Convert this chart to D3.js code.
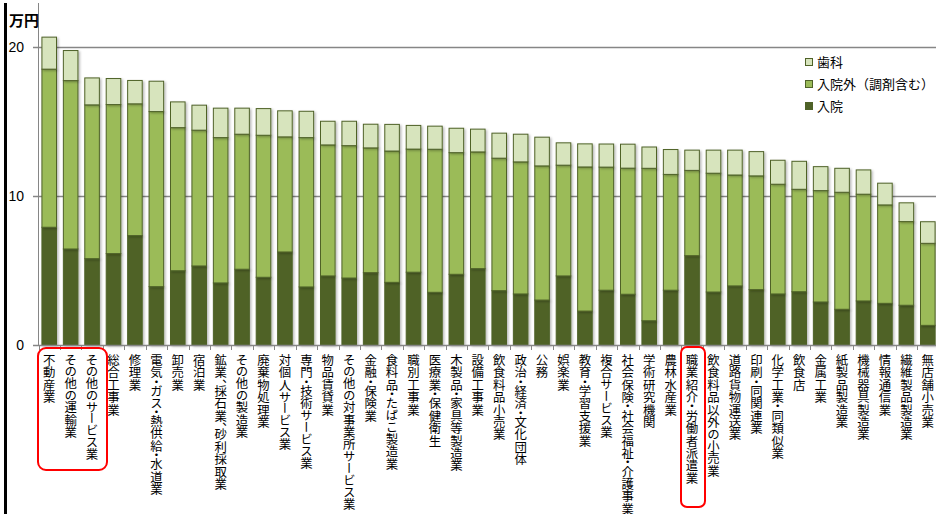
<!DOCTYPE html>
<html><head><meta charset="utf-8">
<script src="https://cdn.jsdelivr.net/npm/d3@7"></script>
<style>
html,body{margin:0;padding:0;background:#fff;}
svg{display:block;}
.cat{font-family:"Noto Sans CJK JP","Noto Sans",sans-serif;font-size:12.4px;fill:#000;writing-mode:vertical-rl;font-feature-settings:"vpal" 1;}
.leg{font-family:"Noto Sans CJK JP","Noto Sans",sans-serif;font-size:13px;fill:#000;}
.tick{font-family:"Liberation Sans",Arial,sans-serif;font-size:14px;fill:#000;}
</style>
</head><body>
<svg id="chart" width="936" height="514"></svg>
<script>
const categories = ["不動産業","その他の運輸業","その他のサービス業","総合工事業","修理業","電気・ガス・熱供給・水道業","卸売業","宿泊業","鉱業、採石業、砂利採取業","その他の製造業","廃棄物処理業","対個人サービス業","専門・技術サービス業","物品賃貸業","その他の対事業所サービス業","金融・保険業","食料品・たばこ製造業","職別工事業","医療業・保健衛生","木製品・家具等製造業","設備工事業","飲食料品小売業","政治・経済・文化団体","公務","娯楽業","教育・学習支援業","複合サービス業","社会保険・社会福祉・介護事業","学術研究機関","農林水産業","職業紹介・労働者派遣業","飲食料品以外の小売業","道路貨物運送業","印刷・同関連業","化学工業・同類似業","飲食店","金属工業","紙製品製造業","機械器具製造業","情報通信業","繊維製品製造業","無店舗小売業"];
const inpatient  = [7.91,6.45,5.80,6.14,7.35,3.92,4.99,5.31,4.17,5.09,4.55,6.25,3.90,4.64,4.50,4.86,4.21,4.89,3.54,4.75,5.13,3.65,3.43,3.02,4.64,2.28,3.68,3.41,1.63,3.68,6.00,3.56,3.97,3.72,3.43,3.58,2.89,2.40,2.96,2.80,2.67,1.32];
const outpatient = [10.62,11.31,10.33,10.01,8.85,11.76,9.61,9.12,9.76,9.07,9.54,7.73,10.03,8.80,8.89,8.38,8.82,8.27,9.61,8.17,7.84,8.90,8.87,9.01,7.44,9.68,8.27,8.47,10.24,7.78,5.73,7.98,7.45,7.64,7.37,6.88,7.48,7.86,7.17,6.61,5.62,5.51];
const dental     = [2.15,2.02,1.81,1.75,1.57,2.04,1.73,1.68,1.98,1.75,1.79,1.75,1.77,1.59,1.64,1.59,1.79,1.59,1.55,1.64,1.53,1.68,1.86,1.93,1.50,1.55,1.55,1.61,1.43,1.67,1.36,1.55,1.67,1.63,1.61,1.88,1.61,1.61,1.63,1.46,1.26,1.45];
const seriesNames = ["入院","入院外（調剤含む）","歯科"];
const yTicks = [0,10,20];
const yUnit = "万円";

const colors = {"入院":"#4f6228","入院外（調剤含む）":"#9bbb59","歯科":"#d7e4bd"};
const svg = d3.select("#chart");

const rows = categories.map((c,i)=>({cat:c,"入院":inpatient[i],"入院外（調剤含む）":outpatient[i],"歯科":dental[i]}));
const stack = d3.stack().keys(seriesNames)(rows);

const x = d3.scaleBand().domain(categories).range([38.5, 938.5]).paddingInner(0.32).paddingOuter(0.16);
const y = d3.scaleLinear().domain([0, 23]).range([345, 2.6]);

const defs = svg.append("defs");
const f = defs.append("filter").attr("id","sh").attr("x","-20%").attr("y","-20%").attr("width","150%").attr("height","150%");
f.append("feDropShadow").attr("dx",1.5).attr("dy",1.2).attr("stdDeviation",0.9).attr("flood-color","#000").attr("flood-opacity",0.28);

svg.append("line").attr("x1",5.5).attr("x2",5.5).attr("y1",3).attr("y2",514).attr("stroke","#000").attr("stroke-width",3);

svg.append("g").selectAll("line").data(yTicks.filter(d=>d>0)).join("line")
  .attr("x1",33).attr("x2",936).attr("y1",d=>Math.round(y(d))+0.5).attr("y2",d=>Math.round(y(d))+0.5)
  .attr("stroke","#868686").attr("stroke-width",1.3);

svg.append("g").selectAll("g").data(stack).join("g")
  .attr("fill",d=>colors[d.key])
  .selectAll("rect").data(d=>d).join("rect")
  .attr("x",d=>x(d.data.cat)).attr("width",x.bandwidth())
  .attr("y",d=>y(d[1])).attr("height",d=>y(d[0])-y(d[1]))
  .attr("stroke","#4f6228").attr("stroke-width",1)
  .attr("filter","url(#sh)");

svg.append("line").attr("x1",38.5).attr("x2",38.5).attr("y1",3).attr("y2",345).attr("stroke","#868686").attr("stroke-width",1);
svg.append("line").attr("x1",33).attr("x2",936).attr("y1",345.5).attr("y2",345.5).attr("stroke","#868686").attr("stroke-width",1.3);

const yg = svg.append("g");
yg.selectAll("line").data(yTicks).join("line")
  .attr("x1",33).attr("x2",38.5).attr("y1",d=>Math.round(y(d))+0.5).attr("y2",d=>Math.round(y(d))+0.5)
  .attr("stroke","#868686");
yg.selectAll("text").data(yTicks).join("text").attr("class","tick")
  .attr("x",24).attr("y",d=>y(d)).attr("dy","0.35em").attr("text-anchor","end").text(d=>d);

svg.append("text").attr("x",9).attr("y",26).attr("font-family","'Noto Sans CJK JP',sans-serif")
  .attr("font-size",15).attr("font-weight","bold").text(yUnit);

const step = x.step();
const bounds = d3.range(categories.length+1).map(i=>38.5+i*step);
svg.append("g").selectAll("line").data(bounds).join("line")
  .attr("x1",d=>Math.round(d)+0.5).attr("x2",d=>Math.round(d)+0.5).attr("y1",345).attr("y2",350)
  .attr("stroke","#868686");

svg.append("g").selectAll("text").data(categories).join("text").attr("class","cat")
  .attr("x",d=>x(d)+x.bandwidth()/2).attr("y",354).text(d=>d);

const legOrder = ["歯科","入院外（調剤含む）","入院"];
const lg = svg.append("g").attr("transform","translate(805,0)");
legOrder.forEach((k,i)=>{
  const cy = [62,84,106][i];
  lg.append("rect").attr("x",0.5).attr("y",cy-3.5).attr("width",7).attr("height",7)
    .attr("fill",colors[k]).attr("stroke","#4f6228").attr("stroke-width",1);
  lg.append("text").attr("class","leg").attr("x",12).attr("y",cy).attr("dy","0.35em").text(k);
});

svg.append("rect").attr("x",38).attr("y",348).attr("width",69).attr("height",122).attr("rx",8)
  .attr("fill","none").attr("stroke","#ff0000").attr("stroke-width",2);
svg.append("rect").attr("x",681).attr("y",347).attr("width",24).attr("height",160).attr("rx",6)
  .attr("fill","none").attr("stroke","#ff0000").attr("stroke-width",2);
</script>
</body></html>
